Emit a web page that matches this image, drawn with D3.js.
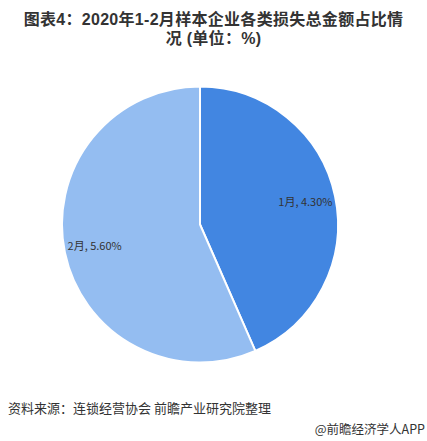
<!DOCTYPE html>
<html><head><meta charset="utf-8">
<script src="https://cdn.jsdelivr.net/npm/d3@7"></script>
<style>body{margin:0;background:#fff}svg{display:block}</style>
</head><body>
<script>
const titleLines = ["图表4：2020年1-2月样本企业各类损失总金额占比情","况 (单位：%)"];
const categories = ["1月", "2月"];
const values = [4.30, 5.60];
const colors = ["#4286e1", "#94bdf1"];
const sourceText = "资料来源：连锁经营协会 前瞻产业研究院整理";
const brandText = "@前瞻经济学人APP";

const W = 427, H = 441;
const svg = d3.select("body").append("svg").attr("width", W).attr("height", H);
const font = "'Microsoft YaHei','Noto Sans CJK SC',sans-serif";
const titleFont = "'Liberation Sans','Noto Sans CJK SC',sans-serif";

svg.selectAll("text.title").data(titleLines).enter().append("text")
  .attr("x", W/2).attr("y", (d,i)=>25 + i*19)
  .attr("text-anchor","middle").attr("font-family",titleFont)
  .attr("font-size",16).attr("font-weight","bold").attr("fill","#333")
  .attr("letter-spacing",0.3)
  .text(d=>d);

const cx = 200, cy = 224.5, r = 138;
const data = categories.map((c,i)=>({cat:c, value:values[i], color:colors[i]}));
const pie = d3.pie().value(d=>d.value).sort(null);
const arc = d3.arc().innerRadius(0).outerRadius(r);
const g = svg.append("g").attr("transform",`translate(${cx},${cy})`);
const arcs = pie(data);
g.selectAll("path").data(arcs).enter().append("path")
  .attr("d",arc).attr("fill",d=>d.data.color)
  .attr("stroke","#fff").attr("stroke-width",2);

const labelArc = d3.arc().innerRadius(r*0.78).outerRadius(r*0.78);
g.selectAll("text.lbl").data(arcs).enter().append("text")
  .attr("transform",d=>{const [x,y]=labelArc.centroid(d);return `translate(${x},${y})`;})
  .attr("text-anchor","middle").attr("dy","0.35em")
  .attr("font-family",font).attr("font-size",11).attr("fill","#333")
  .text(d=>`${d.data.cat}, ${d.data.value.toFixed(2)}%`);

svg.append("text").attr("x",8).attr("y",413).attr("font-family",font)
  .attr("font-size",13).attr("fill","#333").text(sourceText);
svg.append("text").attr("x",425).attr("y",434).attr("text-anchor","end")
  .attr("font-family",font).attr("font-size",12.5).attr("fill","#333").text(brandText);
</script>
</body></html>
